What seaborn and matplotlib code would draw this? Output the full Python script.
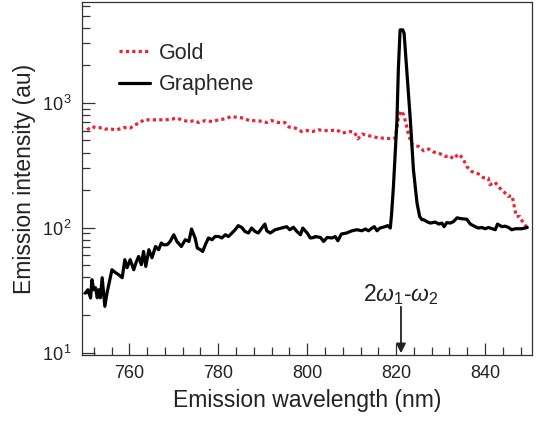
import matplotlib
matplotlib.use("Agg")
from matplotlib import pyplot as plt
import matplotlib.ticker as mticker
import seaborn as sns
import pandas as pd
import numpy as np

# graphene emission spectrum (nm, au)
graphene_nm = [750.1, 750.7, 751.3, 751.6, 752.0, 752.4, 752.8, 753.1, 753.5, 753.9,
               754.5, 755.0, 756.1, 756.9, 757.6, 758.4, 759.0, 759.5, 760.2, 761.0,
               761.5, 762.1, 762.7, 763.2, 763.7, 764.4, 765.1, 765.9, 766.6, 767.2,
               767.7, 768.5, 769.2, 770.0, 770.7, 771.7, 772.6, 773.4, 774.0, 774.8,
               775.3, 776.0, 776.5, 777.1, 777.8, 778.6, 779.3, 780.1, 780.8, 781.6,
               782.3, 783.1, 783.8, 784.5, 785.3, 786.0, 786.8, 787.5, 788.3, 789.0,
               789.8, 790.5, 790.9, 791.7, 792.8, 794.3, 795.4, 796.1, 796.9, 797.7,
               798.5, 799.0, 800.0, 800.7, 801.5, 801.8, 803.0, 803.7, 804.5, 805.6,
               806.3, 806.9, 807.7, 808.9, 810.1, 811.2, 812.3, 813.1, 813.8, 814.6,
               815.1, 815.7, 816.4, 817.5, 818.1, 818.7, 819.0, 819.4, 819.8, 820.2,
               820.5, 820.9, 821.5, 821.8, 822.4, 823.2, 823.9, 824.7, 825.3, 825.8,
               826.2, 826.9, 827.7, 828.8, 829.6, 830.3, 830.8, 831.4, 832.2, 832.9,
               833.7, 834.8, 835.9, 836.7, 837.8, 838.5, 839.3, 840.0, 840.8, 841.6,
               842.3, 842.8, 843.8, 844.5, 845.3, 846.0, 846.8, 848.3, 849.5]
graphene_int = [30.0, 31.9, 27.4, 38.4, 31.9, 33.1, 27.5, 31.9, 27.5, 39.8,
                23.5, 30.2, 46.1, 43.7, 42.1, 39.8, 55.5, 47.9, 55.5, 46.1,
                52.5, 58.9, 50.6, 64.6, 49.0, 66.7, 57.5, 70.8, 66.7, 75.5,
                73.1, 73.1, 77.7, 87.9, 77.7, 70.8, 80.2, 77.7, 97.7, 82.8,
                68.8, 66.7, 64.6, 73.1, 82.8, 80.2, 85.1, 85.1, 82.8, 87.9,
                85.1, 90.8, 96.4, 104, 100.5, 93.3, 90.8, 99.5, 93.3, 90.8,
                99.5, 107, 94.6, 90.8, 96.4, 99.5, 102, 96.4, 101, 93.3,
                87.9, 99.5, 90.8, 82.8, 83.6, 85.1, 83.6, 77.7, 83.6, 82.8,
                85.1, 78.7, 89.1, 90.8, 94.6, 96.4, 94.6, 97.7, 94.6, 99.5,
                102, 94.6, 99.5, 102, 104, 99.5, 131, 214, 396, 731,
                1837, 3837, 3837, 3610, 1837, 731, 291, 158, 123, 116,
                116, 112, 109, 111, 107, 109, 102, 110, 109, 112,
                120, 118, 117, 107, 102, 99.5, 100.5, 98.2, 100.5, 98.2,
                96.4, 107, 102, 103, 100.5, 96.4, 98.2, 98.2, 100.5]

# gold emission spectrum (nm, au)
gold_nm = [750.5, 751.6, 752.7, 753.9, 754.6, 755.7, 757.2, 758.7, 760.2, 761.3,
           762.5, 763.2, 764.4, 765.5, 766.6, 768.1, 769.6, 770.7, 772.2, 773.7,
           774.5, 775.6, 777.1, 778.6, 780.1, 781.6, 782.9, 784.1, 785.6, 787.1,
           788.6, 790.1, 790.9, 792.0, 793.5, 795.0, 795.9, 797.3, 798.8, 799.9,
           801.2, 802.5, 804.0, 805.1, 806.6, 807.9, 809.6, 810.6, 811.4, 812.4,
           813.8, 814.9, 816.0, 817.5, 819.0, 819.8, 820.2, 820.5, 821.1, 821.7,
           822.3, 822.8, 823.6, 825.1, 826.2, 827.3, 828.4, 829.9, 831.0, 832.0,
           832.9, 834.0, 835.0, 835.9, 837.0, 838.5, 839.6, 840.7, 841.1, 842.2,
           843.0, 843.7, 844.5, 845.2, 846.0, 846.4, 846.7, 847.1, 847.8, 848.6,
           849.5]
gold_int = [608, 646, 628, 634, 617, 617, 608, 634, 628, 667,
            695, 731, 731, 731, 731, 731, 741, 755, 721, 708,
            721, 695, 721, 708, 731, 745, 776, 767, 755, 718,
            721, 708, 695, 721, 695, 695, 640, 628, 589, 600,
            589, 608, 600, 597, 608, 573, 589, 583, 515, 562,
            545, 537, 522, 522, 515, 522, 628, 755, 863, 802,
            667, 555, 461, 447, 413, 427, 404, 391, 372, 378,
            356, 389, 361, 309, 282, 270, 252, 250, 221, 232,
            214, 201, 190, 178, 181, 162, 139, 123, 123, 109,
            100.5]

x_ticks = [760, 780, 800, 820, 840]
mixing_nm = 821.1

sns.set_style("ticks")
plt.rcParams["font.family"] = ["Liberation Sans", "DejaVu Sans"]
plt.rcParams["mathtext.fontset"] = "custom"
plt.rcParams["mathtext.rm"] = "Liberation Sans"
plt.rcParams["mathtext.it"] = "Liberation Sans:italic"
plt.rcParams["mathtext.default"] = "regular"

fig = plt.figure(figsize=(5.37, 4.24), dpi=100)
ax = fig.add_axes([0.153, 0.163, 0.838, 0.832])

gold = pd.DataFrame({"nm": gold_nm, "intensity": gold_int})
graph = pd.DataFrame({"nm": graphene_nm, "intensity": graphene_int})

sns.lineplot(data=gold, x="nm", y="intensity", ax=ax, color="#ec2431",
             lw=2.3, ls=(0, (1, 1)), label="Gold")
sns.lineplot(data=graph, x="nm", y="intensity", ax=ax, color="black",
             lw=2.3, label="Graphene")

ax.set_yscale("log")
ax.set_xlim(749.4, 850.6)
ax.set_ylim(9.6, 6400)
ax.set_xticks(x_ticks)
ax.xaxis.set_minor_locator(mticker.MultipleLocator(4))
ax.yaxis.set_major_locator(mticker.LogLocator(base=10, numticks=5))
ax.yaxis.set_minor_locator(mticker.LogLocator(base=10, subs=np.arange(2, 10), numticks=10))
ax.yaxis.set_minor_formatter(mticker.NullFormatter())
ax.yaxis.set_major_formatter(mticker.FuncFormatter(
    lambda v, p: r"$10^{\,%d}$" % int(round(np.log10(v)))))

ax.tick_params(which="both", direction="in", top=False, right=False,
               color="#333333", labelsize=13, labelcolor="#222222")
ax.tick_params(which="major", length=9, width=0.9, pad=7)
ax.tick_params(which="minor", length=6, width=0.9)
for s in ax.spines.values():
    s.set_color("#333333")
    s.set_linewidth(0.9)

ax.set_xlabel("Emission wavelength (nm)", fontsize=16.5, color="#222222", labelpad=5)
ax.set_ylabel("Emission intensity (au)", fontsize=16.5, color="#222222", labelpad=4)

ax.annotate("", xy=(mixing_nm, 9.9), xytext=(mixing_nm, 23.3),
            arrowprops=dict(arrowstyle="-|>", color="#222222", lw=1.3,
                            mutation_scale=14, shrinkA=0, shrinkB=0))
ax.text(mixing_nm, 29, r"$2\mathit{\omega}_1$-$\mathit{\omega}_2$", fontsize=16.5,
        ha="center", va="center", color="#222222")

ax.legend(loc="upper left", bbox_to_anchor=(0.081, 0.885), frameon=False,
          fontsize=15.5, handlelength=1.45, handletextpad=0.4,
          labelspacing=0.5, borderaxespad=0, borderpad=0)

fig.savefig("out.png", dpi=100)
